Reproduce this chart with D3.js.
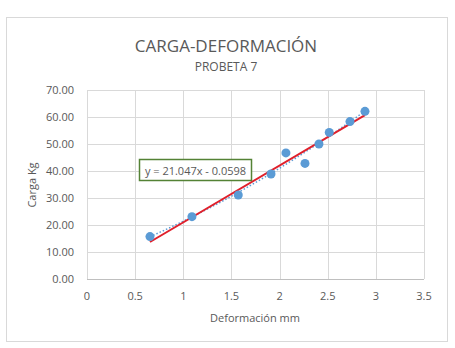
<!DOCTYPE html>
<html lang="es">
<head>
<meta charset="utf-8">
<script src="https://d3js.org/d3.v7.min.js"></script>
<style>
  body { margin: 0; background: #fff; }
  text { font-family: "Open Sans", "Liberation Sans", sans-serif; }
</style>
</head>
<body>
<script>
// data
const deformacion = [0.654, 1.09, 1.571, 1.911, 2.066, 2.264, 2.409, 2.516, 2.731, 2.887];
const carga = [15.7, 23.1, 31.1, 38.9, 46.7, 42.8, 50.0, 54.3, 58.3, 62.1];
const xTicks = [0, 0.5, 1, 1.5, 2, 2.5, 3, 3.5];
const yTicks = [0, 10, 20, 30, 40, 50, 60, 70];
const slope = 21.047, intercept = -0.0598;

const width = 455, height = 348;
const svg = d3.select("body").append("svg")
  .attr("width", width).attr("height", height);

// chart border
svg.append("rect")
  .attr("x", 6.5).attr("y", 17.5).attr("width", 441).attr("height", 324)
  .attr("fill", "#fff").attr("stroke", "#d9d9d9");

const x = d3.scaleLinear().domain([0, 3.5]).range([87, 424]);
const y = d3.scaleLinear().domain([0, 70]).range([279, 90]);

// gridlines
svg.append("g").selectAll("line").data(yTicks).join("line")
  .attr("x1", x(0)).attr("x2", x(3.5))
  .attr("y1", d => Math.round(y(d)) + 0.5).attr("y2", d => Math.round(y(d)) + 0.5)
  .attr("stroke", d => d === 0 ? "#bfbfbf" : "#d9d9d9");
svg.append("g").selectAll("line").data(xTicks).join("line")
  .attr("y1", y(0)).attr("y2", y(70))
  .attr("x1", d => Math.round(x(d)) + 0.5).attr("x2", d => Math.round(x(d)) + 0.5)
  .attr("stroke", "#d9d9d9");

// tick labels
svg.append("g").selectAll("text").data(yTicks).join("text")
  .attr("x", 74).attr("y", d => y(d) + 4)
  .attr("text-anchor", "end").attr("font-size", 11).attr("fill", "#595959")
  .text(d => d3.format(".2f")(d));
svg.append("g").selectAll("text").data(xTicks).join("text")
  .attr("x", d => x(d)).attr("y", 300)
  .attr("text-anchor", "middle").attr("font-size", 11).attr("fill", "#595959")
  .text(d => d);

// titles
svg.append("text").attr("x", 226).attr("y", 52).attr("text-anchor", "middle")
  .attr("font-size", 17).attr("fill", "#595959").text("CARGA-DEFORMACIÓN");
svg.append("text").attr("x", 226).attr("y", 71).attr("text-anchor", "middle")
  .attr("font-size", 12).attr("fill", "#595959").text("PROBETA 7");
svg.append("text").attr("x", 255).attr("y", 322).attr("text-anchor", "middle")
  .attr("font-size", 11).attr("fill", "#595959").text("Deformación mm");
svg.append("text").attr("transform", "translate(36,185) rotate(-90)")
  .attr("text-anchor", "middle").attr("font-size", 11).attr("fill", "#595959")
  .text("Carga Kg");

// dotted blue trend (quadratic least squares of the points)
function quadFit(xs, ys) {
  const n = xs.length;
  let s = [0, 0, 0, 0, 0], t = [0, 0, 0];
  xs.forEach((xv, i) => {
    for (let k = 0; k < 5; k++) s[k] += Math.pow(xv, k);
    for (let k = 0; k < 3; k++) t[k] += ys[i] * Math.pow(xv, k);
  });
  const A = [[s[0], s[1], s[2], t[0]], [s[1], s[2], s[3], t[1]], [s[2], s[3], s[4], t[2]]];
  for (let i = 0; i < 3; i++) {
    for (let j = i + 1; j < 3; j++) {
      const f = A[j][i] / A[i][i];
      for (let k = i; k < 4; k++) A[j][k] -= f * A[i][k];
    }
  }
  const c = [0, 0, 0];
  for (let i = 2; i >= 0; i--) {
    let v = A[i][3];
    for (let k = i + 1; k < 3; k++) v -= A[i][k] * c[k];
    c[i] = v / A[i][i];
  }
  return xv => c[0] + c[1] * xv + c[2] * xv * xv;
}
const q = quadFit(deformacion, carga);
const xs = d3.range(0, 41).map(i => deformacion[0] + (deformacion[9] - deformacion[0]) * i / 40);
svg.append("path")
  .attr("d", d3.line().x(d => x(d)).y(d => y(q(d)))(xs))
  .attr("fill", "none").attr("stroke", "#5b9bd5").attr("stroke-width", 1.5)
  .attr("stroke-dasharray", "1.5,2");

// red linear trendline
const x0 = d3.min(deformacion), x1 = d3.max(deformacion);
svg.append("line")
  .attr("x1", x(x0)).attr("y1", y(slope * x0 + intercept))
  .attr("x2", x(x1)).attr("y2", y(slope * x1 + intercept))
  .attr("stroke", "#e0202b").attr("stroke-width", 2);

// points
svg.append("g").selectAll("circle").data(deformacion).join("circle")
  .attr("cx", d => x(d)).attr("cy", (d, i) => y(carga[i]))
  .attr("r", 4.5).attr("fill", "#5b9bd5");

// equation label
svg.append("rect").attr("x", 139.5).attr("y", 159.5).attr("width", 112).attr("height", 21)
  .attr("fill", "#fff").attr("stroke", "#548235").attr("stroke-width", 1.5);
svg.append("text").attr("x", 195.5).attr("y", 174.5).attr("text-anchor", "middle")
  .attr("font-size", 11).attr("fill", "#595959").text("y = 21.047x - 0.0598");
</script>
</body>
</html>
